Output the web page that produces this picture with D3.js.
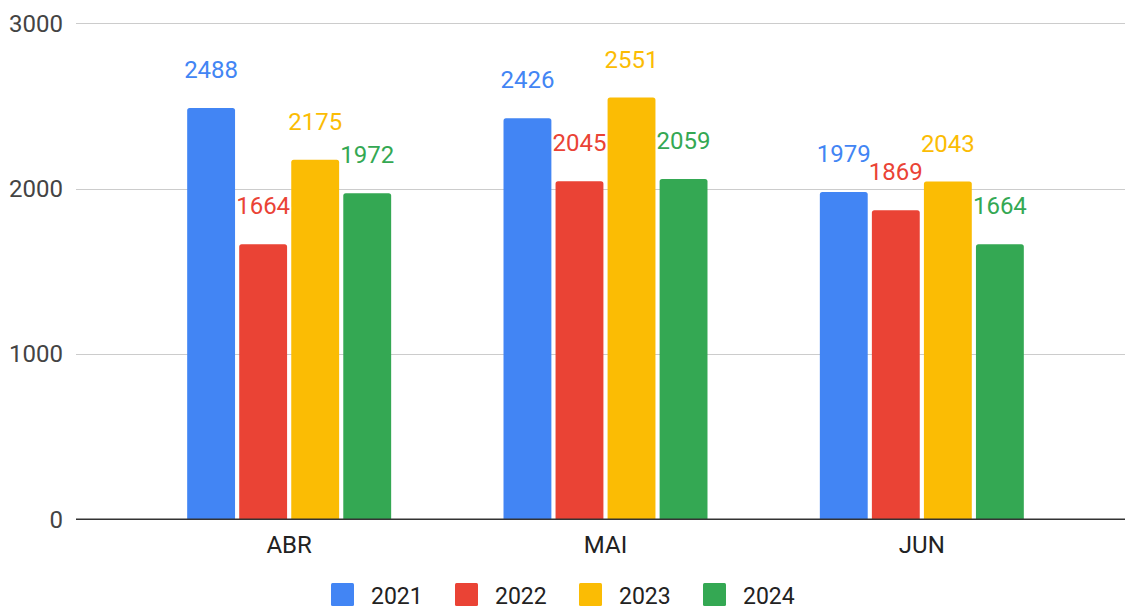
<!DOCTYPE html>
<html>
<head>
<meta charset="utf-8">
<script src="https://cdn.jsdelivr.net/npm/d3@7"></script>
<style>
  body { margin: 0; background: #fff; }
  svg { display: block; font-family: Roboto, "Noto Sans", sans-serif; }
</style>
</head>
<body>
<div id="chart"></div>
<script>
// data
const months = ["ABR", "MAI", "JUN"];
const years = ["2021", "2022", "2023", "2024"];
const values2021 = [2488, 2426, 1979];
const values2022 = [1664, 2045, 1869];
const values2023 = [2175, 2551, 2043];
const values2024 = [1972, 2059, 1664];
const yTicks = [0, 1000, 2000, 3000];
const colors = ["#4285F4", "#EA4335", "#FBBC04", "#34A853"];

const seriesVals = [values2021, values2022, values2023, values2024];
const rows = [];
months.forEach((m, i) => {
  years.forEach((y, j) => rows.push({ month: m, year: y, value: seriesVals[j][i] }));
});

const W = 1125, H = 609;
const svg = d3.select("#chart").append("svg")
  .attr("width", W).attr("height", H);

const y = d3.scaleLinear().domain([0, 3000]).range([519.3, 23.3]);

const x0 = d3.scaleBand().domain(months)
  .range([131, 1080])
  .paddingInner(0.342).paddingOuter(0.171);

const x1 = d3.scaleBand().domain(years)
  .range([0, x0.bandwidth()])
  .paddingInner(0.08).paddingOuter(0.04);

const color = d3.scaleOrdinal().domain(years).range(colors);

// gridlines
svg.append("g").selectAll("line")
  .data(yTicks.filter(d => d > 0))
  .join("line")
  .attr("x1", 76).attr("x2", W)
  .attr("y1", d => Math.round(y(d)) + 0.5)
  .attr("y2", d => Math.round(y(d)) + 0.5)
  .attr("stroke", "#cccccc").attr("stroke-width", 1);

// y labels
svg.append("g").selectAll("text")
  .data(yTicks)
  .join("text")
  .attr("x", 63).attr("y", d => y(d))
  .attr("dy", "0.35em")
  .attr("text-anchor", "end")
  .attr("font-size", 24)
  .attr("fill", "#444")
  .text(d => d);

// bars with rounded tops
function barPath(x, yTop, w, yBot, r) {
  return `M${x},${yBot}V${yTop + r}Q${x},${yTop} ${x + r},${yTop}` +
    `H${x + w - r}Q${x + w},${yTop} ${x + w},${yTop + r}V${yBot}Z`;
}

const bars = svg.append("g");
bars.selectAll("path")
  .data(rows)
  .join("path")
  .attr("d", d => barPath(x0(d.month) + x1(d.year), y(d.value), x1.bandwidth(), y(0), 2.5))
  .attr("fill", d => color(d.year));

// zero axis
svg.append("line")
  .attr("x1", 76).attr("x2", W)
  .attr("y1", y(0)).attr("y2", y(0))
  .attr("stroke", "#333").attr("stroke-width", 1.5);

// value labels
svg.append("g").selectAll("text")
  .data(rows)
  .join("text")
  .attr("x", d => x0(d.month) + x1(d.year) + x1.bandwidth() / 2)
  .attr("y", d => y(d.value) - 30)
  .attr("text-anchor", "middle")
  .attr("font-size", 24)
  .attr("fill", d => color(d.year))
  .attr("stroke", "#fff").attr("stroke-width", 3)
  .attr("paint-order", "stroke")
  .text(d => d.value);

// x labels
svg.append("g").selectAll("text")
  .data(months)
  .join("text")
  .attr("x", d => x0(d) + x0.bandwidth() / 2)
  .attr("y", 553)
  .attr("text-anchor", "middle")
  .attr("font-size", 24)
  .attr("fill", "#222")
  .text(d => d);

// legend
const legendX = d3.scaleBand().domain(years).range([331, 827]);
const legend = svg.append("g").selectAll("g")
  .data(years)
  .join("g")
  .attr("transform", d => `translate(${legendX(d)},583)`);

legend.append("rect")
  .attr("width", 23).attr("height", 23).attr("rx", 1.5)
  .attr("fill", d => color(d));

legend.append("text")
  .attr("x", 40).attr("y", 21)
  .attr("font-size", 23)
  .attr("fill", "#222")
  .text(d => d);
</script>
</body>
</html>
